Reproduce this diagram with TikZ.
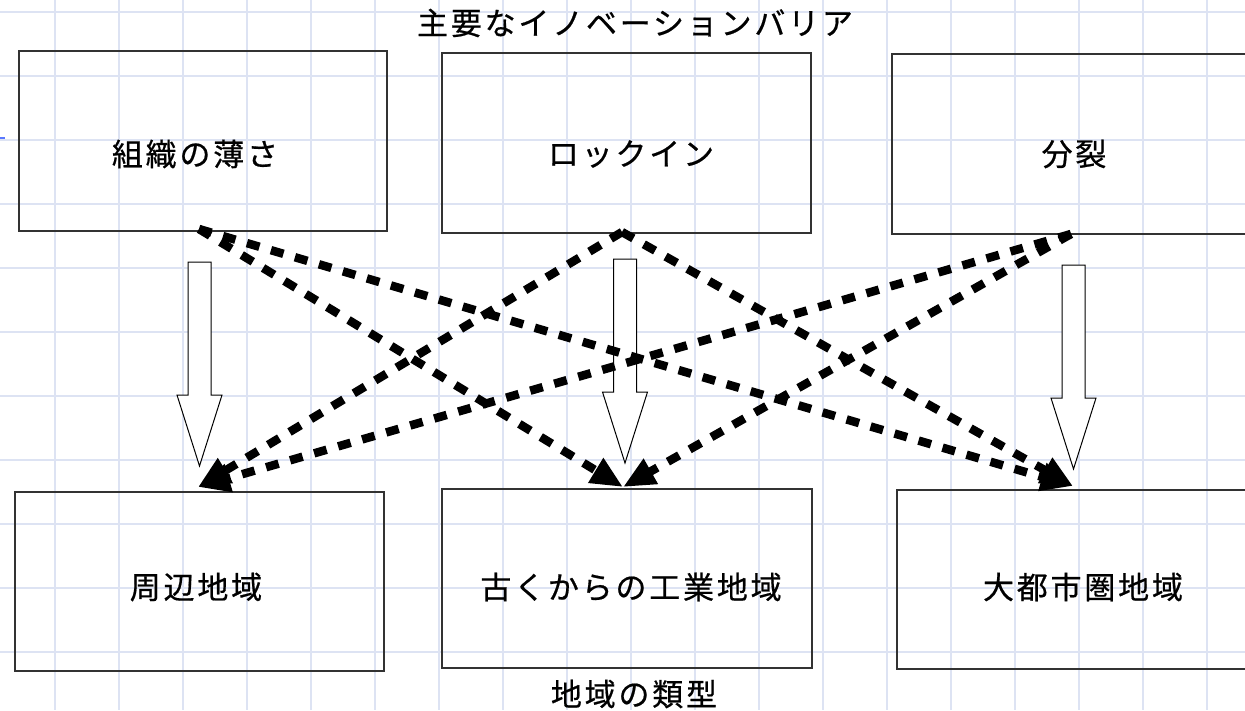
\documentclass[tikz,border=0pt]{standalone}
\usepackage{fontspec}
\setmainfont{Noto Sans CJK JP}
\newfontfamily\jp[LetterSpace=9,FakeBold=0.6]{Noto Sans CJK JP}
\usetikzlibrary{arrows.meta}
\definecolor{gridc}{RGB}{221,227,243}
\definecolor{boxc}{RGB}{50,50,50}
\definecolor{markc}{RGB}{90,120,255}
\begin{document}
\begin{tikzpicture}[x=1pt,y=-1pt,
  gridline/.style={draw=gridc, line width=2.6pt},
  box/.style={draw=boxc, line width=1.3pt, inner sep=0pt},
  lbl/.style={font=\jp\fontsize{31}{33}\selectfont, inner sep=0pt, text=black},
  dasharrow/.style={line width=8.5pt, dash pattern=on 13pt off 12pt,
    -{Triangle[length=32pt,width=27pt]}},
  blockarr/.pic={\draw[line width=1pt, draw=black, fill=white]
    (-11.5,0) -- (11.5,0) -- (11.5,133) -- (22.5,133) -- (0,204)
    -- (-22.5,133) -- (-11.5,133) -- cycle;}]
\useasboundingbox (0,0) rectangle (1245,710);
\clip (0,0) rectangle (1245,710);
\fill[white] (0,0) rectangle (1245,710);
% grid
\foreach \x in {55,119,...,1207} \draw[gridline] (\x,0) -- (\x,710);
\foreach \y in {12,76,...,652} \draw[gridline] (0,\y) -- (1245,\y);
\draw[markc, line width=1.5pt] (0,138) -- (5,138);
% boxes
\node[box, minimum width=368pt, minimum height=180pt] (b1) at (203,141) {};
\node[box, minimum width=369pt, minimum height=180pt] (b2) at (626.5,143) {};
\node[box, minimum width=360pt, minimum height=180pt] (b3) at (1072,144) {};
\node[box, minimum width=369pt, minimum height=179pt] (b4) at (199.5,581.5) {};
\node[box, minimum width=370pt, minimum height=179pt] (b5) at (627,578.5) {};
\node[box, minimum width=369pt, minimum height=179pt] (b6) at (1081.5,579.5) {};
% texts
\node[lbl] (title) at (635,23) {主要なイノベーションバリア};
\node[lbl] (bottom) at (634,694) {地域の類型};
\node[lbl] (t1) at (195,154) {組織の薄さ};
\node[lbl] (t2) at (631,154) {ロックイン};
\node[lbl] (t3) at (1074,154) {分裂};
\node[lbl] (t4) at (196,587) {周辺地域};
\node[lbl] (t5) at (631,587) {古くからの工業地域};
\node[lbl] (t6) at (1083,587) {大都市圏地域};
% block arrows
\pic at (199.5,262) {blockarr};
\pic at (625,259) {blockarr};
\pic at (1073.5,265) {blockarr};
% connection points
\coordinate (s1) at (199,229);
\coordinate (s2) at (622,232);
\coordinate (s3) at (1071,234);
\coordinate (e4) at (198,487);
\coordinate (e5) at (623,487);
\coordinate (e6) at (1073,486);
% dashed arrows
\draw[dasharrow] (s1) -- (e5);
\draw[dasharrow] (s1) -- (e6);
\draw[dasharrow] (s2) -- (e4);
\draw[dasharrow] (s2) -- (e6);
\draw[dasharrow] (s3) -- (e4);
\draw[dasharrow] (s3) -- (e5);
\end{tikzpicture}
\end{document}
